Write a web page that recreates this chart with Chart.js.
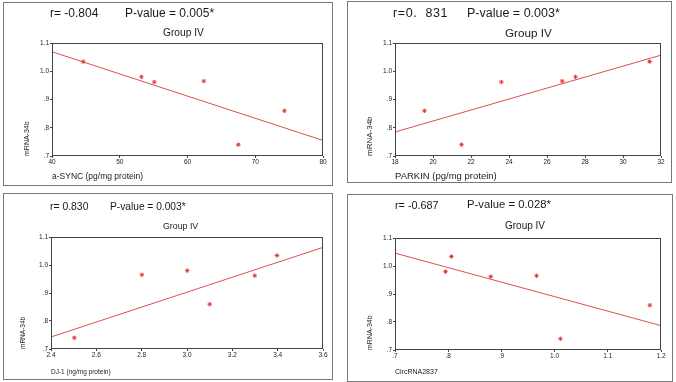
<!DOCTYPE html>
<html>
<head>
<meta charset="utf-8">
<script src="https://cdn.jsdelivr.net/npm/chart.js@4.4.1/dist/chart.umd.min.js"></script>
<style>
  body { margin: 0; background: #fff; width: 676px; height: 382px; position: relative; overflow: hidden;
         font-family: "Liberation Sans", Arial, sans-serif; color: #1a1a1a; }
  .panel { position: absolute; border: 1px solid #777; box-sizing: border-box; }
  .panel canvas { position: absolute; left: 0; top: 0; }
  .lbl { position: absolute; white-space: pre; line-height: 1; }
</style>
</head>
<body>

<div class="panel" id="p1"><canvas id="c1"></canvas></div>
<div class="panel" id="p2"><canvas id="c2"></canvas></div>
<div class="panel" id="p3"><canvas id="c3"></canvas></div>
<div class="panel" id="p4"><canvas id="c4"></canvas></div>

<span class="lbl" style="left:50px;top:7px;font-size:12px">r= -0.804</span>
<span class="lbl" style="left:125px;top:7px;font-size:12px">P-value = 0.005*</span>
<span class="lbl" style="left:163px;top:28px;font-size:10.2px">Group IV</span>

<span class="lbl" style="left:393px;top:7px;font-size:12.5px;letter-spacing:0.6px">r=0.  831</span>
<span class="lbl" style="left:467px;top:7px;font-size:12.5px">P-value = 0.003*</span>
<span class="lbl" style="left:505px;top:27px;font-size:11.7px">Group IV</span>

<span class="lbl" style="left:50px;top:202px;font-size:10.4px">r= 0.830</span>
<span class="lbl" style="left:110px;top:202px;font-size:10.2px">P-value = 0.003*</span>
<span class="lbl" style="left:163px;top:222px;font-size:8.8px">Group IV</span>

<span class="lbl" style="left:395px;top:200px;font-size:10.8px">r= -0.687</span>
<span class="lbl" style="left:467px;top:199px;font-size:11.3px">P-value = 0.028*</span>
<span class="lbl" style="left:505px;top:221px;font-size:10px">Group IV</span>

<script>
// mRNA-34b values (same six samples in every panel)
const mirValues = [1.034, 0.980, 0.962, 0.965, 0.740, 0.860];

// x values per panel, same sample order as mirValues
const asyncValues  = [44.6, 53.2, 55.1, 62.4, 67.5, 74.3];
const parkinValues = [31.4, 27.5, 23.6, 26.8, 21.5, 19.55];
const dj1Values    = [3.397, 3.001, 3.299, 2.801, 2.503, 3.1];
const circValues   = [0.806, 0.795, 0.880, 0.966, 1.011, 1.179];

// fitted line, y at left and right end of the x axis
const asyncFit  = [1.069, 0.755];
const parkinFit = [0.785, 1.057];
const dj1Fit    = [0.743, 1.063];
const circFit   = [1.046, 0.787];

// tick values and labels
const yTicks = [0.7, 0.8, 0.9, 1.0, 1.1];
const yTickLabels = ['.7', '.8', '.9', '1.0', '1.1'];
const asyncTicks  = [40, 50, 60, 70, 80];
const asyncLabels = ['40', '50', '60', '70', '80'];
const parkinTicks  = [18, 20, 22, 24, 26, 28, 30, 32];
const parkinLabels = ['18', '20', '22', '24', '26', '28', '30', '32'];
const dj1Ticks  = [2.4, 2.6, 2.8, 3.0, 3.2, 3.4, 3.6];
const dj1Labels = ['2.4', '2.6', '2.8', '3.0', '3.2', '3.4', '3.6'];
const circTicks  = [0.7, 0.8, 0.9, 1.0, 1.1, 1.2];
const circLabels = ['.7', '.8', '.9', '1.0', '1.1', '1.2'];

const FONT = '"Liberation Sans", Arial, sans-serif';

// draws the box round the plot area
const frame = {
  id: 'frame',
  afterDraw(chart) {
    const a = chart.chartArea, ctx = chart.ctx;
    ctx.save();
    ctx.strokeStyle = '#444';
    ctx.lineWidth = 1;
    ctx.strokeRect(Math.round(a.left) + 0.5, Math.round(a.top) + 0.5,
                   Math.round(a.right - a.left) - 1, Math.round(a.bottom - a.top) - 1);
    ctx.restore();
  }
};

function makePanel(p) {
  // p.box = [L, T, R, B] border pixels, p.plot = [L, T, R, B] plot area (page coords)
  const [L, T, R, B] = p.box;
  const div = document.getElementById(p.div);
  div.style.left = L + 'px'; div.style.top = T + 'px';
  div.style.width = (R - L + 1) + 'px'; div.style.height = (B - T + 1) + 'px';
  const W = R - L - 1, H = B - T - 1;
  const canvas = document.getElementById(p.canvas);
  canvas.width = W; canvas.height = H;

  const yAxisW = p.plot[0] - L - 1;
  const xAxisH = H - (p.plot[3] - T - 1);
  const padTop = p.plot[1] - T - 1;
  const padRight = R - p.plot[2];

  const xs = p.xTicks;
  const xmin = xs[0], xmax = xs[xs.length - 1];

  new Chart(canvas, {
    type: 'scatter',
    data: {
      datasets: [
        {
          data: p.x.map((v, i) => ({ x: v, y: mirValues[i] })),
          pointStyle: 'star',
          pointRadius: 2.2,
          borderColor: '#e23a36',
          backgroundColor: '#e23a36',
          borderWidth: 1
        },
        {
          type: 'line',
          data: [{ x: xmin, y: p.fit[0] }, { x: xmax, y: p.fit[1] }],
          showLine: true,
          pointRadius: 0,
          borderColor: '#d8524c',
          borderWidth: 1
        }
      ]
    },
    options: {
      responsive: false,
      animation: false,
      layout: { padding: { top: padTop, right: padRight, left: 0, bottom: 0 } },
      plugins: { legend: { display: false }, tooltip: { enabled: false } },
      scales: {
        x: {
          type: 'linear',
          min: xmin, max: xmax,
          afterBuildTicks: (s) => { s.ticks = xs.map(v => ({ value: v })); },
          afterFit: (s) => { s.height = xAxisH; },
          grid: { drawOnChartArea: false, drawTicks: true, tickLength: 2, color: '#444' },
          border: { display: false },
          ticks: {
            padding: 0,
            color: '#222',
            font: { family: FONT, size: 6.5 },
            maxRotation: 0,
            callback: (v, i) => p.xLabels[i]
          },
          title: {
            display: true,
            text: p.xTitle,
            align: 'start',
            color: '#222',
            font: { family: FONT, size: p.xTitleSize, lineHeight: 1 },
            padding: { top: 0, bottom: H - (p.xTitleY - T - 1) - p.xTitleSize / 2 }
          }
        },
        y: {
          min: 0.7, max: 1.1,
          afterBuildTicks: (s) => { s.ticks = yTicks.map(v => ({ value: v })); },
          afterFit: (s) => { s.width = yAxisW; },
          grid: { drawOnChartArea: false, drawTicks: true, tickLength: 2, color: '#444' },
          border: { display: false },
          ticks: {
            padding: 1,
            color: '#222',
            font: { family: FONT, size: 6.5 },
            callback: (v, i) => yTickLabels[i]
          },
          title: {
            display: true,
            text: 'mRNA-34b',
            align: 'start',
            color: '#222',
            font: { family: FONT, size: p.yTitleSize, lineHeight: 1 },
            padding: { top: (p.yTitleX - L - 1) - p.yTitleSize / 2, bottom: 0 }
          }
        }
      }
    },
    plugins: [frame]
  });
}

makePanel({ div: 'p1', canvas: 'c1', box: [3, 2, 332, 185], plot: [52, 43, 323, 156],
  x: asyncValues, fit: asyncFit, xTicks: asyncTicks, xLabels: asyncLabels,
  xTitle: 'a-SYNC (pg/mg protein)', xTitleSize: 8.5, xTitleY: 177, yTitleSize: 7, yTitleX: 27.5 });
makePanel({ div: 'p2', canvas: 'c2', box: [347, 1, 671, 182], plot: [395, 43, 661, 156],
  x: parkinValues, fit: parkinFit, xTicks: parkinTicks, xLabels: parkinLabels,
  xTitle: 'PARKIN (pg/mg protein)', xTitleSize: 9.5, xTitleY: 176, yTitleSize: 8, yTitleX: 370 });
makePanel({ div: 'p3', canvas: 'c3', box: [3, 193, 332, 379], plot: [51, 237, 323, 349],
  x: dj1Values, fit: dj1Fit, xTicks: dj1Ticks, xLabels: dj1Labels,
  xTitle: 'DJ-1 (ng/mg protein)', xTitleSize: 6.5, xTitleY: 372, yTitleSize: 6.5, yTitleX: 23 });
makePanel({ div: 'p4', canvas: 'c4', box: [347, 194, 672, 381], plot: [395, 238, 661, 350],
  x: circValues, fit: circFit, xTicks: circTicks, xLabels: circLabels,
  xTitle: 'CircRNA2837', xTitleSize: 7, xTitleY: 372, yTitleSize: 7, yTitleX: 370 });
</script>
</body>
</html>
